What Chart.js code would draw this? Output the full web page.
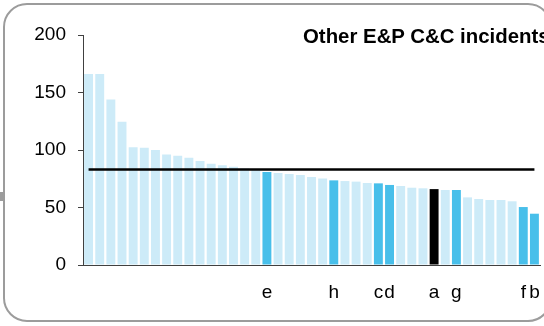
<!DOCTYPE html>
<html>
<head>
<meta charset="utf-8">
<script src="https://cdn.jsdelivr.net/npm/chart.js@4"></script>
<style>
    html, body { margin: 0; padding: 0; background: #fff; overflow: hidden; }
    #wrap { position: relative; width: 544px; height: 326px; overflow: hidden; }
    #frame {
        position: absolute; left: 3px; top: 3px; width: 549px; height: 319px;
        box-sizing: border-box; border: 2px solid #9c9c9c; border-radius: 24px;
    }
    #notch { position: absolute; left: 0; top: 192px; width: 3px; height: 9px; background: #9c9c9c; }
    #title {
        position: absolute; left: 303px; top: 26px; color: #000; white-space: nowrap;
        font: bold 20.4px/20px "Liberation Sans", Arial, sans-serif;
    }
    canvas { position: absolute; left: 0; top: 0; }
</style>
</head>
<body>
<div id="wrap">
    <div id="frame"></div>
    <div id="notch"></div>
    <canvas id="chart" width="544" height="326"></canvas>
    <div id="title">Other E&amp;P C&amp;C incidents</div>
</div>
<script>
// incidents per company, sorted high to low
const incidents = [
    166, 166, 144, 124.5, 102.5, 102, 100, 96, 95, 93.3,
    90.5, 88, 86.7, 85.5, 84, 83.5, 80.8, 80, 79.1, 78.3,
    76.5, 75.3, 73.6, 73, 72.5, 71.3, 71, 69.6, 68.7, 67.2,
    66.7, 66, 65.2, 65.2, 58.8, 57.4, 56.5, 56.5, 55.4, 50.4,
    44.6
];
// named peers, blank for the rest
const companyLabels = [
    '', '', '', '', '', '', '', '', '', '',
    '', '', '', '', '', '', 'e', '', '', '',
    '', '', 'h', '', '', '', 'c', 'd', '', '',
    '', 'a', '', 'g', '', '', '', '', '', 'f',
    'b'
];
const averageIncidents = 83;
const yTicks = [0, 50, 100, 150, 200];

const LIGHT = '#cdebf8';
const PEER = '#48bfea';
const SELF = '#000000';
const AXIS = '#404040';

Chart.defaults.font.family = '"Liberation Sans", Arial, sans-serif';
Chart.defaults.font.size = 19;
Chart.defaults.color = '#000';

const barColors = companyLabels.map(l => l === 'a' ? SELF : (l ? PEER : LIGHT));

new Chart(document.getElementById('chart'), {
    data: {
        labels: companyLabels,
        datasets: [
            {
                type: 'line',
                data: incidents.map(() => averageIncidents),
                borderColor: '#000',
                borderWidth: 2.5,
                pointRadius: 0,
                fill: false,
                order: 0
            },
            {
                type: 'bar',
                data: incidents,
                backgroundColor: barColors,
                borderWidth: 0,
                categoryPercentage: 1,
                barPercentage: 0.8,
                order: 1
            }
        ]
    },
    options: {
        responsive: false,
        animation: false,
        layout: { padding: { top: 35, right: 4, bottom: 0, left: 0 } },
        plugins: { legend: { display: false }, tooltip: { enabled: false }, title: { display: false } },
        scales: {
            x: {
                offset: true,
                grid: { display: false },
                border: { display: true, color: AXIS, width: 1 },
                ticks: { autoSkip: false, maxRotation: 0, padding: 8, color: '#000' },
                afterFit: s => {
                    s.height = 61;
                    s.paddingLeft = 0;
                    s.paddingRight = 0;
                }
            },
            y: {
                min: 0,
                max: 200,
                afterBuildTicks: s => { s.ticks = yTicks.map(v => ({ value: v })); },
                grid: { display: true, drawOnChartArea: false, drawTicks: true, tickLength: 5, color: AXIS },
                border: { display: true, color: AXIS, width: 1 },
                ticks: { padding: 12, color: '#000' },
                afterFit: s => { s.width = 83; }
            }
        }
    }
});
</script>
</body>
</html>
